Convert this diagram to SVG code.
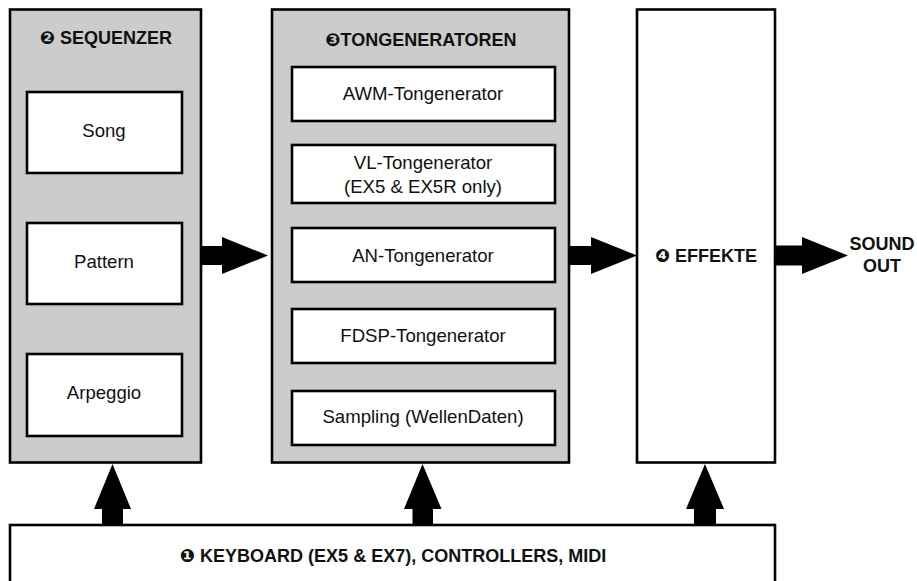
<svg xmlns="http://www.w3.org/2000/svg" width="917" height="581" viewBox="0 0 917 581">
<style>
.outer{fill:#cccccc;stroke:#000;stroke-width:2.6}
.white{fill:#fff;stroke:#000;stroke-width:2.6}
.inner{fill:#fff;stroke:#000;stroke-width:2.6}
.t{font-family:"Liberation Sans","DejaVu Sans",Arial,sans-serif;font-size:18.6px;fill:#111;text-anchor:middle}
.b{font-family:"Liberation Sans","DejaVu Sans",Arial,sans-serif;font-size:18px;font-weight:bold;fill:#111;text-anchor:middle}
.arrow{fill:#000}
</style>
<rect width="917" height="581" fill="#fff"/>
<g id="sequenzer">
<rect class="outer" x="10" y="9.5" width="191" height="453"/>
<text class="b" x="106" y="44">❷ SEQUENZER</text>
</g>
<g id="song">
<rect class="inner" x="27" y="92" width="155" height="81"/>
<text class="t" x="104" y="137">Song</text>
</g>
<g id="pattern">
<rect class="inner" x="27" y="223" width="155" height="81"/>
<text class="t" x="104" y="268">Pattern</text>
</g>
<g id="arpeggio">
<rect class="inner" x="27" y="354" width="155" height="82"/>
<text class="t" x="104" y="399">Arpeggio</text>
</g>
<g id="tongeneratoren">
<rect class="outer" x="272" y="9.5" width="297" height="453"/>
<text class="b" x="421" y="45.5">❸TONGENERATOREN</text>
</g>
<g id="awm">
<rect class="inner" x="292" y="67" width="263" height="54"/>
<text class="t" x="423" y="100">AWM-Tongenerator</text>
</g>
<g id="vl">
<rect class="inner" x="292" y="145" width="263" height="58"/>
<text class="t" x="423" y="169">VL-Tongenerator</text>
<text class="t" x="423" y="193">(EX5 &amp; EX5R only)</text>
</g>
<g id="an">
<rect class="inner" x="292" y="228" width="263" height="54"/>
<text class="t" x="423" y="262">AN-Tongenerator</text>
</g>
<g id="fdsp">
<rect class="inner" x="292" y="309" width="263" height="54"/>
<text class="t" x="423" y="342">FDSP-Tongenerator</text>
</g>
<g id="sampling">
<rect class="inner" x="292" y="391" width="263" height="54"/>
<text class="t" x="423" y="423">Sampling (WellenDaten)</text>
</g>
<g id="effekte">
<rect class="white" x="637" y="9.5" width="138" height="453"/>
<text class="b" x="706" y="262">❹ EFFEKTE</text>
</g>
<g id="keyboard">
<rect class="white" x="10" y="525" width="765" height="70"/>
<text class="b" x="393" y="562">❶ KEYBOARD (EX5 &amp; EX7), CONTROLLERS, MIDI</text>
</g>
<g id="soundout">
<text class="b" x="882" y="250">SOUND</text>
<text class="b" x="882" y="272">OUT</text>
</g>
<g id="connectors">
<polygon class="arrow" points="201,246 222,246 222,237 268,255.5 222,274 222,265 201,265"/>
<polygon class="arrow" points="569,246 591,246 591,237 637,255.5 591,274 591,265 569,265"/>
<polygon class="arrow" points="775,245.5 802,245.5 802,237 848,255.5 802,274 802,265.5 775,265.5"/>
<polygon class="arrow" points="102,525 102,509 94,509 112.5,464 131,509 123,509 123,525"/>
<polygon class="arrow" points="412.5,525 412.5,509 404,509 422.5,464 441.5,509 433,509 433,525"/>
<polygon class="arrow" points="694,525 694,509 686,509 705,464 724,509 716,509 716,525"/>
</g>
</svg>
